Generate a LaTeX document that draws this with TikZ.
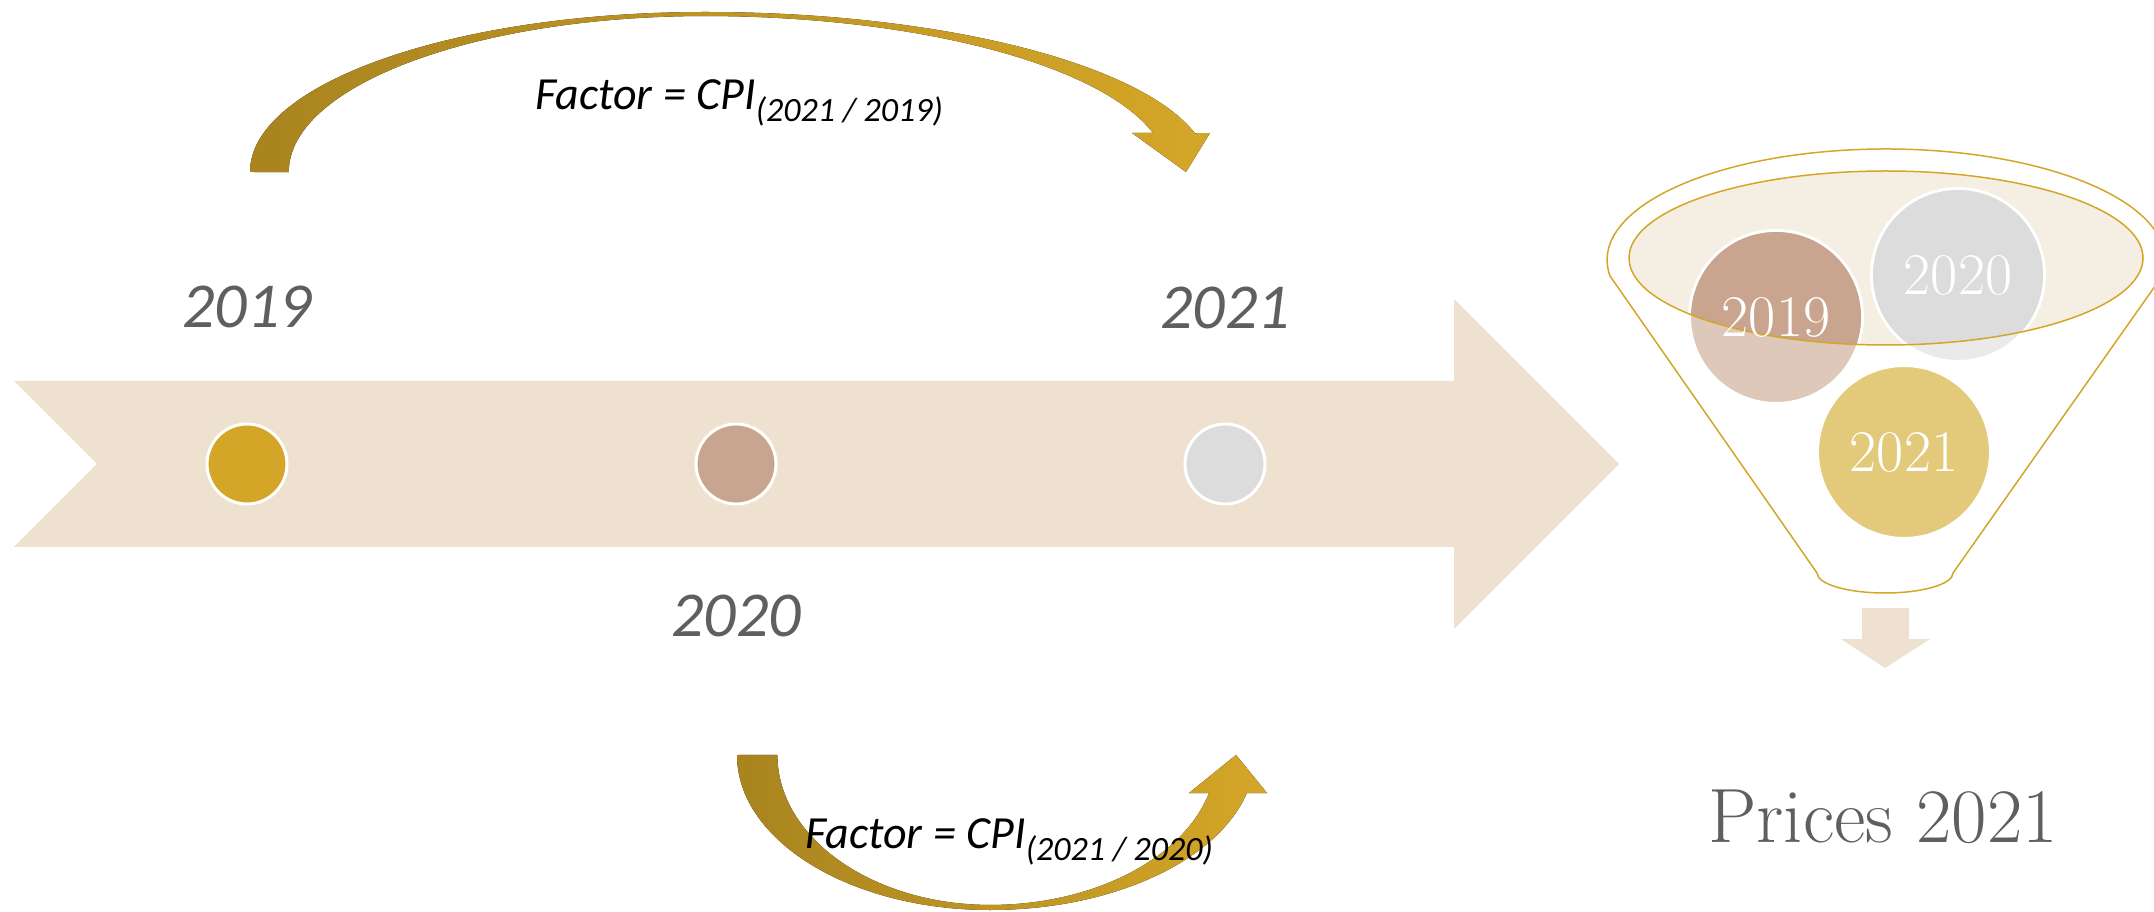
\documentclass[tikz,border=0pt]{standalone}
\usepackage{fontspec}
\newfontfamily\carl{Carlito}
\definecolor{beige}{HTML}{EFE1CF}
\definecolor{goldA}{HTML}{D4A628}
\definecolor{goldD}{HTML}{A9841F}
\definecolor{rose}{HTML}{C9A58F}
\definecolor{roseL}{HTML}{DEC8BA}
\definecolor{greyC}{HTML}{DCDCDC}
\definecolor{greyL}{HTML}{EAEAEA}
\definecolor{goldL}{HTML}{E3C97A}
\definecolor{cream}{HTML}{F5EFE3}
\definecolor{txtgrey}{HTML}{5F5F5F}
\begin{document}
\begin{tikzpicture}[x=1pt,y=1pt,
  tdot/.style={circle, draw=white, line width=3pt, minimum size=80pt, inner sep=0pt},
  fdot/.style={circle, draw=white, line width=3pt, minimum size=173pt, inner sep=0pt},
  yearlbl/.style={text=txtgrey, font=\carl\itshape\fontsize{64}{70}\selectfont, anchor=base, inner sep=0pt},
  ftxt/.style={text=white, font=\fontsize{59}{62}\selectfont, inner sep=0pt},
  factor/.style={anchor=base west, inner sep=0pt, font=\carl\itshape\fontsize{46}{50}\selectfont},
  subtxt/.style={font=\fontsize{34}{36}\selectfont},
  bandshade/.style={left color=goldD, right color=goldA},
  funnelline/.style={draw=goldA, line width=1.5pt}]
\useasboundingbox (0,0) rectangle (2154,911);
\fill[white] (0,0) rectangle (2154,911);
% big timeline arrow
\fill[beige] (14,530) -- (97,447) -- (14,364) -- (1454,364) -- (1454,282) -- (1619,447) -- (1454,612) -- (1454,530) -- cycle;
\node[tdot, fill=goldA] (t19) at (247,447) {};
\node[tdot, fill=rose] (t20) at (736,447) {};
\node[tdot, fill=greyC] (t21) at (1225,447) {};
\node[yearlbl] (l19) at (247,583) {2019};
\node[yearlbl] (l21) at (1225,582) {2021};
\node[yearlbl] (l20) at (736,275) {2020};
% top curved arrow
\fill[bandshade] (250,739) arc[start angle=180, end angle=90, x radius=455, y radius=160]
  arc[start angle=90, end angle=14, x radius=505, y radius=160]
  -- (1210,778) -- (1186,739) -- (1132,778) -- (1153,778)
  arc[start angle=14.5, end angle=90, x radius=463, y radius=156]
  arc[start angle=90, end angle=180, x radius=416, y radius=156] -- cycle;
% bottom curved arrow
\fill[bandshade] (737,156) arc[start angle=180, end angle=270, x radius=253, y radius=155]
  arc[start angle=270, end angle=345.8, x radius=265, y radius=155]
  -- (1267,118) -- (1236,156) -- (1189,118) -- (1209,118)
  arc[start angle=345.3, end angle=270, x radius=226, y radius=150]
  arc[start angle=270, end angle=180, x radius=213, y radius=150] -- cycle;
\node[factor] (f1) at (535,801) {Factor = CPI\raisebox{-12pt}{\fontsize{34}{36}\selectfont(2021 / 2019)}};
\node[factor] (f2) at (805,63) {Factor = CPI\raisebox{-12pt}{\fontsize{34}{36}\selectfont(2021 / 2020)}};
% funnel
\draw[funnelline] (1610,635) arc[start angle=188.3, end angle=-8.3, x radius=279, y radius=111]
  -- (1953,338) arc[start angle=0, end angle=-180, x radius=68, y radius=20] -- cycle;
\fill[cream] (1886,653) ellipse[x radius=257, y radius=87];
\node[fdot, fill=roseL] (c19) at (1776,594) {};
\node[fdot, fill=greyL] (c20) at (1958,636) {};
\node[fdot, fill=goldL] (c21) at (1904,459) {};
\begin{scope}
\clip (1886,653) ellipse[x radius=257, y radius=87];
\fill[rose] (c19.center) circle[radius=85];
\fill[greyC] (c20.center) circle[radius=85];
\end{scope}
\draw[funnelline] (1886,653) ellipse[x radius=257, y radius=87];
\node[ftxt] (n19) at (c19) {2019};
\node[ftxt] (n20) at (c20) {2020};
\node[ftxt] (n21) at (c21) {2021};
% down arrow
\fill[beige] (1862,303) -- (1909,303) -- (1909,272) -- (1930,272) -- (1885,243) -- (1841,272) -- (1862,272) -- cycle;
\node[anchor=base, text=txtgrey, font=\fontsize{77}{82}\selectfont, inner sep=0pt] (pr) at (1883,69) {Prices 2021};
\end{tikzpicture}
\end{document}
